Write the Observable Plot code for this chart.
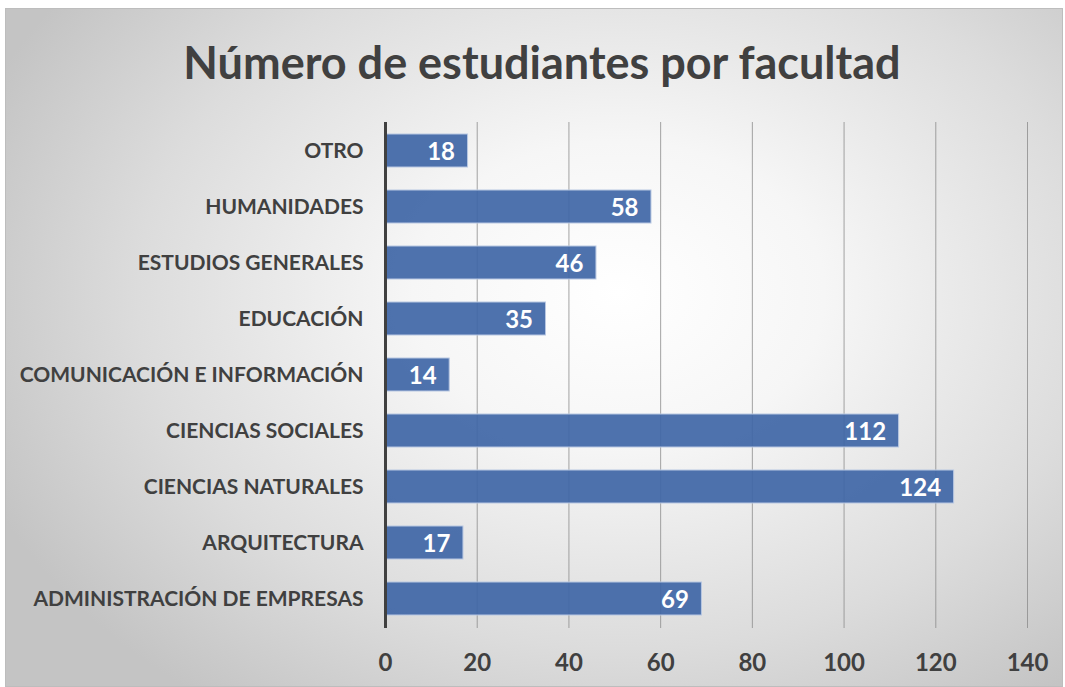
<!DOCTYPE html>
<html>
<head>
<meta charset="utf-8">
<script src="https://cdn.jsdelivr.net/npm/d3@7"></script>
<script src="https://cdn.jsdelivr.net/npm/@observablehq/plot@0.6"></script>
<style>
  html, body { margin: 0; padding: 0; background: #ffffff; }
  #frame {
    position: absolute; left: 5px; top: 8px; width: 1058px; height: 679px;
    border: 1px solid #bdbdbd; box-sizing: border-box;
    background: radial-gradient(ellipse 65% 75% at 58% 42%, #ffffff 0%, #f6f6f6 30%, #dcdcdc 70%, #c4c4c4 100%);
    font-family: Lato, "Open Sans", sans-serif;
  }
  #title {
    position: absolute; left: 16px; top: 0; width: 1040px; height: 100px;
    text-align: center; line-height: 106px;
    font-size: 45px; font-weight: bold; color: #404040;
  }
  #chart { position: absolute; left: 0; top: 99px; }
</style>
</head>
<body>
<div id="frame">
  <div id="title">Número de estudiantes por facultad</div>
  <div id="chart"></div>
</div>
<script>
const categories = [
  "OTRO",
  "HUMANIDADES",
  "ESTUDIOS GENERALES",
  "EDUCACIÓN",
  "COMUNICACIÓN E INFORMACIÓN",
  "CIENCIAS SOCIALES",
  "CIENCIAS NATURALES",
  "ARQUITECTURA",
  "ADMINISTRACIÓN DE EMPRESAS"
];
const values = [18, 58, 46, 35, 14, 112, 124, 17, 69];
const xTicks = [0, 20, 40, 60, 80, 100, 120, 140];

const data = categories.map((c, i) => ({facultad: c, n: values[i]}));

const chart = Plot.plot({
  width: 1056,
  height: 580,
  marginTop: 14,
  marginBottom: 60,
  marginLeft: 379,
  marginRight: 35,
  style: {background: "transparent", fontFamily: "Lato, 'Open Sans', sans-serif", color: "#404040"},
  x: {domain: [0, 140], ticks: xTicks, label: null},
  y: {domain: categories, label: null, paddingInner: 0.41, paddingOuter: 0.205},
  marks: [
    Plot.gridX(xTicks.filter(d => d > 0), {stroke: "#8c8c8c", strokeOpacity: 0.8, strokeWidth: 1}),
    Plot.barX(data, {y: "facultad", x: "n", fill: "#3f66a6", fillOpacity: 0.92, stroke: "#b8c7e2", strokeWidth: 1}),
    Plot.text(data, {y: "facultad", x: "n", text: d => String(d.n), textAnchor: "end", dx: -13, dy: 1, fill: "white", fontSize: 24, fontWeight: "bold"}),
    Plot.ruleX([0], {stroke: "#404040", strokeWidth: 3}),
    Plot.axisY({tickSize: 0, tickPadding: 22, fontSize: 21, fontWeight: "bold", label: null, fill: "#404040"}),
    Plot.axisX({ticks: xTicks, tickSize: 0, tickPadding: 25, fontSize: 24, fontWeight: "bold", label: null, fill: "#404040"})
  ]
});
document.getElementById("chart").appendChild(chart);
</script>
</body>
</html>
